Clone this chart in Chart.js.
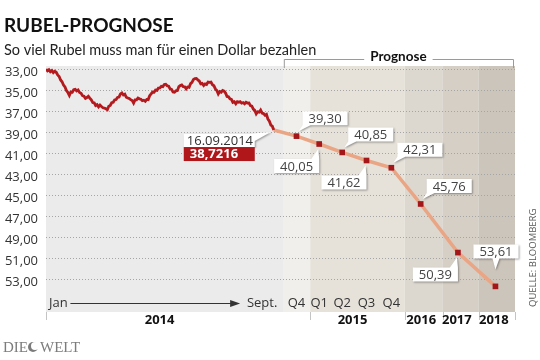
<!DOCTYPE html>
<html>
<head>
<meta charset="utf-8">
<script src="https://cdn.jsdelivr.net/npm/chart.js@4.4.1/dist/chart.umd.min.js"></script>
<style>
  html, body { margin: 0; padding: 0; background: #fff; }
</style>
</head>
<body>
<canvas id="myChart" width="540" height="360"></canvas>
<script>
// Rubel je Dollar, Jan bis 16.09.2014
const rubelHistory = [
  32.94, 33.08, 32.98, 33.16, 33.05, 33.25, 33.12, 33.22, 33.48, 33.62, 33.95, 34.12, 34.43, 34.62, 34.95, 35.15,
  35.42, 35.10, 35.12, 34.88, 34.84, 35.00, 34.90, 35.15, 35.22, 35.45, 35.50, 35.70, 35.62, 35.50, 35.68, 35.85,
  36.10, 36.12, 36.38, 36.30, 36.52, 36.35, 36.48, 36.60, 36.62, 36.70, 36.78, 36.45, 36.38, 36.12, 36.08, 35.85,
  35.82, 35.62, 35.58, 35.28, 35.18, 35.38, 35.30, 35.60, 35.66, 35.72, 35.82, 35.90, 36.15, 35.85, 35.85, 35.68,
  35.75, 35.78, 35.92, 35.88, 35.98, 35.80, 35.82, 35.45, 35.28, 35.10, 35.12, 34.92, 34.95, 34.72, 34.70, 34.55,
  34.58, 34.38, 34.36, 34.50, 34.55, 34.80, 34.85, 35.10, 35.12, 34.98, 34.95, 34.58, 34.48, 34.42, 34.58, 34.60,
  34.80, 34.62, 34.65, 34.30, 34.18, 33.90, 33.82, 33.80, 33.95, 34.05, 34.32, 34.28, 34.48, 34.32, 34.38, 34.15,
  34.18, 34.15, 34.40, 34.50, 34.80, 34.95, 35.28, 35.05, 35.12, 34.95, 35.02, 35.20, 35.52, 35.55, 35.75, 35.80,
  36.08, 36.02, 36.22, 36.02, 36.08, 36.02, 36.16, 36.10, 36.22, 36.08, 36.15, 36.14, 36.40, 36.45, 36.72, 36.85,
  37.18, 36.98, 37.02, 36.82, 37.10, 37.15, 37.30, 37.22, 37.68, 37.88, 38.25, 38.35, 38.7216
];
const historyEnd = 8.62;          // 16.09.2014 on the month axis
const lastDate = '16.09.2014';
const lastRate = 38.7216;

const forecastPeriods = ['Q4', 'Q1', 'Q2', 'Q3', 'Q4', '2016', '2017', '2018'];
const forecastX = [9.48, 10.34, 11.21, 12.13, 13.07, 14.18, 15.59, 17.01];
const forecastValues = [39.30, 40.05, 40.85, 41.62, 42.31, 45.76, 50.39, 53.61];
const calloutSide = ['ar', 'bl', 'ar', 'bl', 'ar', 'ar', 'bl', 'a'];

const axisTickX = [0.47, 8.18, 9.48, 10.34, 11.21, 12.13, 13.07];
const axisLabels = ['Jan', 'Sept.', 'Q4', 'Q1', 'Q2', 'Q3', 'Q4'];

const yGrid = [33, 34, 35, 36, 37, 38, 39, 40, 41, 42, 43, 44, 45, 46, 47, 48, 49, 50, 51, 52, 53, 54];

const years = ['2014', '2015', '2016', '2017', '2018'];
const yearEdges = [0, 10, 13.58, 15.02, 16.38, 17.75];
const yearLabelX = [4.3, 11.6, 14.2, 15.55, 16.95];

const bandEdges = [0, 9, 10, 13.58, 15.02, 16.38, 17.75];
const bandColors = ['#ebebeb', '#f0efeb', '#e6e2da', '#dcd7cf', '#d5cfc6', '#ccc5bb'];

const FONT = '"Open Sans", "DejaVu Sans", sans-serif';
const HEAD = 'Lato, "Open Sans", sans-serif';
const fmt = v => v.toFixed(2).replace('.', ',');

const bandsPlugin = {
  id: 'bands',
  beforeDraw(chart) {
    const { ctx, chartArea: a, scales: { x } } = chart;
    const bottom = a.bottom + 21;
    ctx.save();
    bandColors.forEach((c, i) => {
      const x0 = x.getPixelForValue(bandEdges[i]);
      const x1 = x.getPixelForValue(bandEdges[i + 1]);
      ctx.fillStyle = c;
      ctx.fillRect(x0, a.top, x1 - x0, bottom - a.top);
    });
    ctx.restore();
  }
};

function callout(ctx, px, py, text, side) {
  ctx.font = '13px ' + FONT;
  const w = ctx.measureText(text).width + 12, h = 14;
  let bx, by;
  ctx.beginPath();
  if (side === 'ar') {
    bx = px + 6; by = py - 11 - h;
    ctx.moveTo(bx, by); ctx.lineTo(bx + w, by); ctx.lineTo(bx + w, by + h);
    ctx.lineTo(bx + 8, by + h); ctx.lineTo(px + 2, py - 5); ctx.lineTo(bx, by + h);
  } else if (side === 'bl') {
    bx = px - w; by = py + 15;
    ctx.moveTo(bx, by); ctx.lineTo(bx + w - 8, by); ctx.lineTo(px - 1, py + 5);
    ctx.lineTo(bx + w, by); ctx.lineTo(bx + w, by + h); ctx.lineTo(bx, by + h);
  } else {
    bx = px - 22; by = py - 28 - h;
    ctx.moveTo(bx, by); ctx.lineTo(bx + w, by); ctx.lineTo(bx + w, by + h);
    ctx.lineTo(px + 4, by + h); ctx.lineTo(px, by + h + 11); ctx.lineTo(px - 3, by + h);
    ctx.lineTo(bx, by + h);
  }
  ctx.closePath();
  ctx.save();
  ctx.shadowColor = 'rgba(0,0,0,0.35)';
  ctx.shadowBlur = 2;
  ctx.shadowOffsetX = 1;
  ctx.shadowOffsetY = 1;
  ctx.fillStyle = '#fff';
  ctx.fill();
  ctx.restore();
  ctx.fillStyle = '#444';
  ctx.textAlign = 'center';
  ctx.textBaseline = 'middle';
  ctx.fillText(text, bx + w / 2, by + h / 2 + 1);
}

const notesPlugin = {
  id: 'notes',
  afterDraw(chart) {
    const { ctx, chartArea: a, scales: { x, y } } = chart;
    ctx.save();

    // title
    ctx.textAlign = 'left';
    ctx.textBaseline = 'alphabetic';
    ctx.fillStyle = '#111';
    ctx.font = 'bold 19px ' + HEAD;
    ctx.fillText('RUBEL-PROGNOSE', 4, 32);
    ctx.fillStyle = '#222';
    ctx.font = '14.5px ' + HEAD;
    ctx.fillText('So viel Rubel muss man für einen Dollar bezahlen', 4, 55);

    // Prognose bracket
    const pl = x.getPixelForValue(bandEdges[1]), pr = x.getPixelForValue(bandEdges[bandEdges.length - 1]) - 2;
    const pm = (pl + pr) / 2;
    ctx.font = 'bold 13.5px ' + HEAD;
    const tw = ctx.measureText('Prognose').width;
    ctx.strokeStyle = '#9a9a9a';
    ctx.lineWidth = 1;
    ctx.beginPath();
    ctx.moveTo(pl + 0.5, a.top + 2); ctx.lineTo(pl + 0.5, 59.5); ctx.lineTo(pm - tw / 2 - 6, 59.5);
    ctx.moveTo(pm + tw / 2 + 6, 59.5); ctx.lineTo(pr + 0.5, 59.5); ctx.lineTo(pr + 0.5, a.top + 2);
    ctx.stroke();
    ctx.fillStyle = '#111';
    ctx.textAlign = 'center';
    ctx.fillText('Prognose', pm, 61);

    // arrow Jan -> Sept.
    const ay = a.bottom + 12.5;
    const ax0 = x.getPixelForValue(axisTickX[0]) + 12;
    const ax1 = x.getPixelForValue(axisTickX[1]) - 22;
    ctx.strokeStyle = '#333';
    ctx.beginPath();
    ctx.moveTo(ax0, ay); ctx.lineTo(ax1 - 6, ay);
    ctx.stroke();
    ctx.fillStyle = '#333';
    ctx.beginPath();
    ctx.moveTo(ax1, ay); ctx.lineTo(ax1 - 10, ay - 3.5); ctx.lineTo(ax1 - 10, ay + 3.5);
    ctx.closePath();
    ctx.fill();

    // year row
    const rowTop = a.bottom + 21;
    ctx.strokeStyle = '#c4c4c4';
    ctx.beginPath();
    yearEdges.forEach(v => {
      const px = Math.round(x.getPixelForValue(v)) + 0.5;
      ctx.moveTo(px, rowTop); ctx.lineTo(px, rowTop + 8);
    });
    ctx.stroke();
    ctx.fillStyle = '#111';
    ctx.font = 'bold 13px ' + FONT;
    ctx.textAlign = 'center';
    years.forEach((t, i) => ctx.fillText(t, x.getPixelForValue(yearLabelX[i]), rowTop + 12));

    // forecast callouts
    forecastValues.forEach((v, i) => {
      callout(ctx, x.getPixelForValue(forecastX[i]), y.getPixelForValue(v), fmt(v), calloutSide[i]);
    });

    // last quote
    const lx = x.getPixelForValue(historyEnd), ly = y.getPixelForValue(lastRate);
    const bx2 = lx - 19, bx1 = bx2 - 71, by1 = ly + 4;
    ctx.save();
    ctx.shadowColor = 'rgba(0,0,0,0.35)';
    ctx.shadowBlur = 2;
    ctx.shadowOffsetX = 1;
    ctx.shadowOffsetY = 1;
    ctx.fillStyle = '#fff';
    ctx.beginPath();
    ctx.moveTo(bx1, by1); ctx.lineTo(bx2 - 7, by1); ctx.lineTo(lx - 3, ly + 2);
    ctx.lineTo(bx2, by1 + 7); ctx.lineTo(bx2, by1 + 13); ctx.lineTo(bx1, by1 + 13);
    ctx.closePath();
    ctx.fill();
    ctx.restore();
    ctx.fillStyle = '#b0171b';
    ctx.fillRect(bx1, by1 + 13, bx2 - bx1, 14);
    ctx.textAlign = 'left';
    ctx.textBaseline = 'middle';
    ctx.fillStyle = '#333';
    ctx.font = '13px ' + FONT;
    ctx.fillText(lastDate, bx1 + 3, by1 + 7);
    ctx.fillStyle = '#fff';
    ctx.font = 'bold 13px ' + FONT;
    ctx.fillText(lastRate.toFixed(4).replace('.', ','), bx1 + 6, by1 + 20.5);

    // source
    ctx.save();
    ctx.translate(533, 307);
    ctx.rotate(-Math.PI / 2);
    ctx.fillStyle = '#555';
    ctx.font = '9.5px ' + FONT;
    ctx.textAlign = 'left';
    ctx.textBaseline = 'middle';
    ctx.fillText('QUELLE: BLOOMBERG', 0, 0);
    ctx.restore();

    // logo
    ctx.fillStyle = '#7c7c7c';
    ctx.font = '15px "Liberation Serif", "DejaVu Serif", serif';
    ctx.textAlign = 'left';
    ctx.textBaseline = 'alphabetic';
    ctx.fillText('DIE', 3, 352);
    ctx.fillText('WELT', 40, 352);
    ctx.beginPath();
    ctx.arc(33, 347, 5, 0, Math.PI * 2);
    ctx.fill();
    ctx.fillStyle = '#fff';
    ctx.beginPath();
    ctx.arc(35, 346, 4, 0, Math.PI * 2);
    ctx.fill();

    ctx.restore();
  }
};

const ctx = document.getElementById('myChart');
new Chart(ctx, {
  type: 'line',
  data: {
    datasets: [
      {
        label: 'Kurs',
        data: rubelHistory.map((v, i) => ({ x: i * historyEnd / (rubelHistory.length - 1), y: v })),
        borderColor: '#b3191d',
        borderWidth: 2.8,
        pointRadius: 0,
        tension: 0
      },
      {
        label: 'Prognose',
        data: [{ x: historyEnd, y: lastRate }].concat(forecastX.map((fx, i) => ({ x: fx, y: forecastValues[i] }))),
        borderColor: '#eaa585',
        borderWidth: 3.5,
        pointStyle: 'rect',
        pointRadius: c => (c.dataIndex === 0 ? 0 : 4),
        pointBackgroundColor: '#a3161a',
        pointBorderWidth: 0,
        tension: 0
      }
    ]
  },
  options: {
    responsive: false,
    animation: false,
    layout: { padding: { left: 0, right: 25, top: 66, bottom: 48 } },
    plugins: { legend: { display: false }, tooltip: { enabled: false } },
    scales: {
      x: {
        type: 'linear',
        min: 0,
        max: 17.75,
        grid: { display: false, drawTicks: false },
        border: { display: false },
        afterBuildTicks: s => { s.ticks = axisTickX.map(v => ({ value: v })); },
        afterFit: s => { s.height = 21; },
        ticks: {
          autoSkip: false,
          maxRotation: 0,
          padding: 4,
          color: '#333',
          font: { family: FONT, size: 13 },
          callback: (v, i) => axisLabels[i]
        }
      },
      y: {
        reverse: true,
        min: 32.62,
        max: 54.05,
        afterBuildTicks: s => { s.ticks = yGrid.map(v => ({ value: v })); },
        afterFit: s => { s.width = 46; },
        grid: { color: '#a5a5a5', drawTicks: false, lineWidth: 1 },
        border: { display: false, dash: [1, 2] },
        ticks: {
          padding: 8,
          labelOffset: 2,
          color: '#333',
          font: { family: FONT, size: 13 },
          callback: v => (v % 2 === 1 && v <= 53 ? fmt(v) : '')
        }
      }
    }
  },
  plugins: [bandsPlugin, notesPlugin]
});
</script>
</body>
</html>
